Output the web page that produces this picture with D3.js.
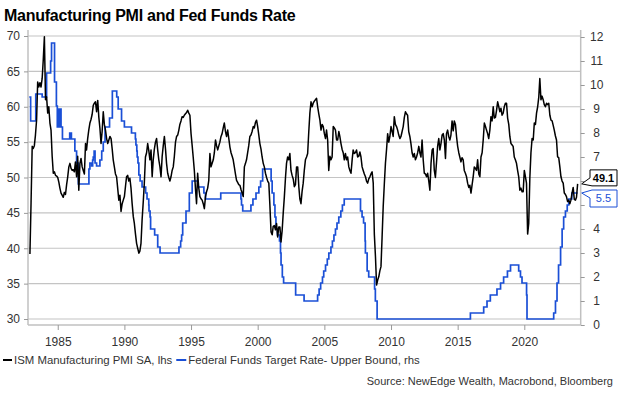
<!DOCTYPE html>
<html>
<head>
<meta charset="utf-8">
<script src="https://cdn.jsdelivr.net/npm/d3@7"></script>
<style>
  body { margin: 0; background: #fff; }
  svg { font-family: "Liberation Sans", Arial, sans-serif; }
</style>
</head>
<body>
<svg width="623" height="395"></svg>
<script>
// ISM manufacturing PMI, monthly, first value = Dec 1982
var pmiStart = "1982-12-01";
var pmi = [
  39.2,
  46.5, 54.4, 54.1, 54.5, 56.0, 58.1, 63.5, 62.8, 63.4, 62.8, 64.0, 66.6,
  69.9, 61.0, 61.4, 59.1, 60.0, 57.7, 56.7, 53.0, 50.6, 50.8, 50.3, 50.2,
  50.0, 49.3, 48.5, 47.8, 47.5, 47.2, 47.9, 47.6, 49.0, 50.1, 51.5, 52.0,
  51.3, 51.0, 51.1, 50.8, 52.2, 50.1, 53.0, 48.2, 52.0, 52.7, 51.5, 51.0,
  50.5, 54.8, 53.9, 55.5, 56.7, 57.7, 58.2, 58.9, 60.2, 60.5, 60.7, 59.3,
  60.9, 58.5, 57.0, 54.8, 56.5, 59.3, 57.5, 56.7, 55.5, 54.8, 55.3, 55.8,
  55.5, 54.0, 52.5, 51.5, 50.5, 50.1, 48.5, 46.8, 47.5, 45.2, 46.3, 46.8,
  47.3, 48.8, 50.1, 50.3, 49.5, 49.9, 48.5, 46.3, 44.5, 43.5, 42.0, 40.7,
  40.0, 39.3, 39.6, 40.7, 44.0, 46.5, 49.2, 52.9, 53.5, 54.8, 53.8, 52.5,
  53.9, 50.1, 52.5, 54.0, 55.0, 55.5, 53.9, 52.5, 51.5, 50.1, 53.0, 54.5,
  55.8, 54.0, 52.0, 50.6, 50.0, 49.5, 50.1, 51.0, 51.5, 53.0, 55.0, 55.8,
  56.0, 56.7, 57.5, 58.0, 58.6, 58.5, 58.8, 59.0, 59.2, 59.5, 59.1, 58.8,
  56.2, 54.5, 52.9, 51.0, 48.5, 46.3, 50.6, 48.5, 47.3, 47.0, 46.8, 46.3,
  45.6, 47.3, 48.0, 48.5, 49.6, 53.4, 51.5, 52.0, 52.5, 53.5, 55.3, 54.5,
  53.9, 54.5, 55.0, 55.8, 56.2, 57.0, 57.7, 56.5, 55.8, 56.7, 55.5, 54.3,
  53.5, 53.0, 52.5, 51.5, 50.5, 49.6, 49.3, 49.0, 48.9, 48.3, 47.8, 47.3,
  51.5, 52.0, 52.5, 53.5, 54.5, 55.8, 56.0, 56.5, 57.2, 57.0, 57.8, 58.1,
  57.2, 56.0, 54.8, 54.0, 52.9, 52.0, 51.5, 50.6, 50.0, 49.5, 49.2, 46.0,
  42.3, 41.9, 43.1, 43.2, 42.6, 43.5, 41.6, 43.0, 43.0, 40.9, 42.5, 45.0,
  47.3, 50.0, 52.0, 52.9, 52.5, 53.4, 51.0, 50.3, 49.8, 48.7, 49.0, 51.5,
  51.5, 48.7, 47.0, 46.3, 48.0, 49.2, 51.0, 52.5, 52.9, 53.4, 56.5, 59.1,
  60.7, 60.0, 60.5, 60.8, 61.0, 61.2, 60.0, 59.0, 58.1, 56.7, 57.5, 57.2,
  56.2, 55.5, 56.7, 55.3, 51.0, 53.0, 52.5, 52.9, 57.2, 57.0, 56.7, 55.3,
  55.3, 56.5, 55.8, 54.8, 54.0, 53.5, 52.5, 53.4, 52.5, 52.9, 51.5, 51.0,
  50.6, 52.5, 53.9, 53.4, 53.5, 53.9, 52.9, 53.0, 53.6, 52.9, 51.5, 51.0,
  50.5, 50.1, 49.5, 49.2, 49.8, 50.1, 50.5, 50.8, 49.2, 42.0, 38.8, 34.8,
  35.5, 36.0, 36.8, 37.4, 41.5, 45.9, 49.0, 52.0, 54.0, 56.2, 55.0, 55.8,
  57.2, 56.5, 55.8, 58.6, 57.5, 57.2, 56.7, 56.0, 55.5, 55.8, 56.5, 57.2,
  58.5, 59.3, 59.0, 58.8, 56.5, 55.8, 54.8, 53.5, 52.9, 53.4, 52.5, 52.9,
  53.5, 54.4, 53.5, 52.9, 55.3, 52.5, 50.6, 50.5, 50.1, 50.6, 49.5, 48.2,
  52.0, 53.9, 54.1, 51.0, 50.0, 52.2, 54.4, 55.5, 53.9, 54.8, 56.0, 56.2,
  55.3, 52.7, 56.2, 56.7, 55.8, 55.3, 56.0, 58.0, 56.6, 58.0, 57.5, 55.8,
  54.4, 53.5, 52.9, 52.2, 52.8, 52.5, 51.0, 50.6, 50.1, 49.2, 48.6, 48.9,
  47.8, 49.0, 50.1, 51.5, 51.3, 51.0, 52.5, 50.5, 50.1, 52.9, 53.5, 55.3,
  57.7, 57.2, 56.7, 56.2, 55.5, 56.7, 58.6, 58.0, 60.0, 58.4, 58.5, 59.5,
  60.7, 60.0, 59.3, 59.8, 58.8, 59.1, 60.0, 60.5, 60.5, 58.4, 57.5, 55.8,
  54.8, 54.6, 54.4, 52.9, 52.5, 52.0, 51.0, 50.1, 48.2, 48.5, 48.0, 48.0,
  51.0, 50.1, 49.2, 42.0, 43.5, 50.0, 53.5, 55.5, 55.3, 57.7, 57.5, 59.1,
  60.0, 61.4, 64.0, 61.0, 61.5, 61.0, 60.3, 60.0, 60.5, 60.3, 60.5, 58.8,
  58.1, 58.0, 57.4, 56.7, 55.9, 55.3, 52.9, 52.8, 51.5, 50.1, 49.5, 49.2,
  47.8, 47.6, 47.3, 46.6, 46.8, 46.3, 46.8, 47.8, 48.6, 46.9, 46.8, 47.2,
  49.1
];

// Fed funds target rate (upper bound): date of change and new level
var fedDates = [
  "1982-11-12", "1982-12-20", "1983-05-10", "1983-11-01", "1984-03-01", "1984-06-20",
  "1984-07-15", "1984-10-05", "1984-11-25", "1984-12-20", "1985-02-05", "1985-02-25",
  "1985-03-15", "1985-04-01", "1985-05-10", "1985-11-25", "1986-01-10", "1986-04-15",
  "1986-06-01", "1986-07-20", "1987-05-05", "1987-06-01", "1987-07-20", "1987-08-15",
  "1987-09-01", "1987-09-25", "1987-10-20", "1987-12-01", "1988-03-01", "1988-04-20",
  "1988-06-01", "1988-07-20", "1988-11-20", "1989-02-05", "1989-06-05", "1989-07-15",
  "1989-10-15", "1990-01-01", "1990-07-15", "1990-10-29", "1990-11-13", "1990-12-07",
  "1990-12-18", "1991-01-08", "1991-02-01", "1991-03-08", "1991-04-30", "1991-08-06",
  "1991-09-13", "1991-10-31", "1991-11-06", "1991-12-06", "1991-12-20", "1992-04-09",
  "1992-07-02", "1992-09-04", "1994-02-04", "1994-03-22", "1994-04-18", "1994-05-17",
  "1994-08-16", "1994-11-15", "1995-02-01", "1995-07-06", "1995-12-19", "1996-01-31",
  "1997-03-25", "1998-09-29", "1998-10-15", "1998-11-17", "1999-06-30", "1999-08-24",
  "1999-11-16", "2000-02-02", "2000-03-21", "2000-05-16", "2001-01-03", "2001-01-31",
  "2001-03-20", "2001-04-18", "2001-05-15", "2001-06-27", "2001-08-21", "2001-09-17",
  "2001-10-02", "2001-11-06", "2001-12-11", "2002-11-06", "2003-06-25", "2004-06-30",
  "2004-08-10", "2004-09-21", "2004-11-10", "2004-12-14", "2005-02-02", "2005-03-22",
  "2005-05-03", "2005-06-30", "2005-08-09", "2005-09-20", "2005-11-01", "2005-12-13",
  "2006-01-31", "2006-03-28", "2006-05-10", "2006-06-29", "2007-09-18", "2007-10-31",
  "2007-12-11", "2008-01-22", "2008-01-30", "2008-03-18", "2008-04-30", "2008-10-08",
  "2008-10-29", "2008-12-16", "2015-12-16", "2016-12-14", "2017-03-15", "2017-06-14",
  "2017-12-13", "2018-03-21", "2018-06-13", "2018-09-26", "2018-12-19", "2019-07-31",
  "2019-09-18", "2019-10-30", "2020-03-03", "2020-03-15", "2022-03-16", "2022-05-04",
  "2022-06-15", "2022-07-27", "2022-09-21", "2022-11-02", "2022-12-14", "2023-02-01",
  "2023-03-22", "2023-05-03", "2023-07-26", "2024-01-01"
];
var fedRates = [
  9.5, 8.5, 9.625, 9.5, 10.5, 11.0,
  11.75, 10.125, 9.125, 8.25, 9.0, 8.25,
  9.0, 8.25, 7.75, 8.0, 7.75, 7.25,
  6.75, 5.875, 6.5, 6.75, 6.625, 6.875,
  7.0, 7.25, 6.75, 6.625, 6.875, 7.25,
  7.625, 8.25, 8.625, 9.75, 9.5, 9.0,
  8.5, 8.25, 8.0, 7.75, 7.5, 7.25,
  7.0, 6.75, 6.25, 6.0, 5.75, 5.5,
  5.25, 5.0, 4.75, 4.5, 4.0, 3.75,
  3.25, 3.0, 3.25, 3.5, 3.75, 4.25,
  4.75, 5.5, 6.0, 5.75, 5.5, 5.25,
  5.5, 5.25, 5.0, 4.75, 5.0, 5.25,
  5.5, 5.75, 6.0, 6.5, 6.0, 5.5,
  5.0, 4.5, 4.0, 3.75, 3.5, 3.0,
  2.5, 2.0, 1.75, 1.25, 1.0, 1.25,
  1.5, 1.75, 2.0, 2.25, 2.5, 2.75,
  3.0, 3.25, 3.5, 3.75, 4.0, 4.25,
  4.5, 4.75, 5.0, 5.25, 4.75, 4.5,
  4.25, 3.5, 3.0, 2.25, 2.0, 1.5,
  1.0, 0.25, 0.5, 0.75, 1.0, 1.25,
  1.5, 1.75, 2.0, 2.25, 2.5, 2.25,
  2.0, 1.75, 1.25, 0.25, 0.5, 1.0,
  1.75, 2.5, 3.25, 4.0, 4.5, 4.75,
  5.0, 5.25, 5.5, 5.5
];

var yearTicks = [1985, 1990, 1995, 2000, 2005, 2010, 2015, 2020];
var lhsTicks = [30, 35, 40, 45, 50, 55, 60, 65, 70];
var rhsTicks = [0, 1, 2, 3, 4, 5, 6, 7, 8, 9, 10, 11, 12];

var titleText = "Manufacturing PMI and Fed Funds Rate";
var pmiName = "ISM Manufacturing PMI SA, lhs";
var fedName = "Federal Funds Target Rate- Upper Bound, rhs";
var sourceText = "Source: NewEdge Wealth, Macrobond, Bloomberg";

var svg = d3.select("svg");
var plot = {left: 28, right: 580.7, top: 30, bottom: 325};
var gridColor = "#c4c4c4";
var axisColor = "#c0c0c0";
var textColor = "#333";
var blue = "#1a4fd6";

var parse = d3.timeParse("%Y-%m-%d");
var start = parse(pmiStart);
var pmiData = pmi.map(function(v, i) { return {date: d3.timeMonth.offset(start, i), value: v}; });
var fedData = fedDates.map(function(d, i) { return {date: parse(d), value: fedRates[i]}; });

var x = d3.scaleTime()
  .domain([new Date(1982, 9, 9), new Date(2024, 2, 25)])
  .range([plot.left, plot.right]);
var yL = d3.scaleLinear().domain([30, 70]).range([319, 36]);
var yR = d3.scaleLinear().domain([0, 12]).range([325, 37]);

// title
svg.append("text")
  .attr("x", 4).attr("y", 21)
  .style("font-size", "16px").style("font-weight", "bold")
  .style("letter-spacing", "-0.25px")
  .attr("fill", "#000")
  .text(titleText);

// grid lines from left axis
svg.append("g").selectAll("line")
  .data(lhsTicks).enter().append("line")
  .attr("x1", plot.left).attr("x2", plot.right)
  .attr("y1", function(d) { return yL(d); })
  .attr("y2", function(d) { return yL(d); })
  .attr("stroke", gridColor).attr("stroke-width", 1.2);

// axes
var gL = svg.append("g").attr("transform", "translate(" + plot.left + ",0)")
  .call(d3.axisLeft(yL).tickValues(lhsTicks).tickSize(4).tickPadding(4));
var gR = svg.append("g").attr("transform", "translate(" + plot.right + ",0)")
  .call(d3.axisRight(yR).tickValues(rhsTicks).tickSize(4).tickPadding(4));
var gX = svg.append("g").attr("transform", "translate(0," + plot.bottom + ")")
  .call(d3.axisBottom(x)
    .tickValues(yearTicks.map(function(y) { return new Date(y, 0, 1); }))
    .tickFormat(d3.timeFormat("%Y")).tickSize(5).tickPadding(7));

[gL, gR, gX].forEach(function(g) {
  g.select(".domain").attr("stroke", axisColor).attr("stroke-width", 1.5);
  g.selectAll(".tick line").attr("stroke", "#999");
  g.selectAll(".tick text").attr("fill", textColor)
    .style("font-size", "12px")
    .style("font-family", "'Liberation Sans', Arial, sans-serif");
});
gL.select(".domain").attr("d", "M0," + plot.top + "V" + plot.bottom);
gR.select(".domain").attr("d", "M0," + plot.top + "V" + plot.bottom);
gX.select(".domain").attr("d", "M" + plot.left + ",0H" + plot.right);
gR.selectAll(".tick text").attr("text-anchor", "middle").attr("x", 16);

// series
var pmiLine = d3.line()
  .x(function(d) { return x(d.date); })
  .y(function(d) { return yL(d.value); });
var fedLine = d3.line()
  .curve(d3.curveStepAfter)
  .x(function(d) { return x(d.date); })
  .y(function(d) { return yR(d.value); });

svg.append("path").datum(fedData)
  .attr("d", fedLine)
  .attr("fill", "none").attr("stroke", blue).attr("stroke-width", 1.7);
svg.append("path").datum(pmiData)
  .attr("d", pmiLine)
  .attr("fill", "none").attr("stroke", "#000").attr("stroke-width", 1.5)
  .attr("stroke-linejoin", "round");

// end-value callouts (they sit over the rhs labels 6 and 5, as in the source chart)
var lastPmi = pmiData[pmiData.length - 1];
var lastFed = fedData[fedData.length - 1];
var tipX = plot.right + 1;
var ty1 = yL(lastPmi.value);
var ty2 = yR(lastFed.value);
gR.selectAll(".tick text")
  .filter(function(d) { return d === 6 || d === 5; })
  .attr("opacity", 0);

svg.append("path")
  .attr("d", "M590," + (ty1 - 14) + "H617V" + (ty1 + 2) + "H592L" + tipX + "," + ty1 + "L590," + (ty1 - 6) + "Z")
  .attr("fill", "#fff").attr("stroke", "#000").attr("stroke-width", 1);
svg.append("text")
  .attr("x", 603.5).attr("y", ty1 - 2)
  .attr("text-anchor", "middle")
  .style("font-size", "11px").style("font-weight", "bold")
  .attr("fill", "#000")
  .text(d3.format(".1f")(lastPmi.value));

svg.append("path")
  .attr("d", "M" + tipX + "," + ty2 + "L592," + (ty2 - 3) + "H617V" + (ty2 + 14) + "H590V" + (ty2 + 5) + "Z")
  .attr("fill", "#fff").attr("stroke", blue).attr("stroke-width", 1);
svg.append("text")
  .attr("x", 603.5).attr("y", ty2 + 9)
  .attr("text-anchor", "middle")
  .style("font-size", "11px")
  .attr("fill", blue)
  .text(d3.format(".1f")(lastFed.value));

// legend
var legY = 360;
var legFont = "11.4px";
svg.append("line").attr("x1", 3).attr("x2", 12).attr("y1", legY).attr("y2", legY)
  .attr("stroke", "#000").attr("stroke-width", 2);
var t1 = svg.append("text").attr("x", 14).attr("y", legY + 4)
  .style("font-size", legFont).attr("fill", textColor).text(pmiName);
var w1 = t1.node().getComputedTextLength();
var bx = 14 + w1 + 4;
svg.append("line").attr("x1", bx).attr("x2", bx + 10).attr("y1", legY).attr("y2", legY)
  .attr("stroke", blue).attr("stroke-width", 2);
svg.append("text").attr("x", bx + 12).attr("y", legY + 4)
  .style("font-size", legFont).attr("fill", textColor).text(fedName);

svg.append("text")
  .attr("x", 613).attr("y", 385)
  .attr("text-anchor", "end")
  .style("font-size", "11px").attr("fill", textColor)
  .text(sourceText);
</script>
</body>
</html>
